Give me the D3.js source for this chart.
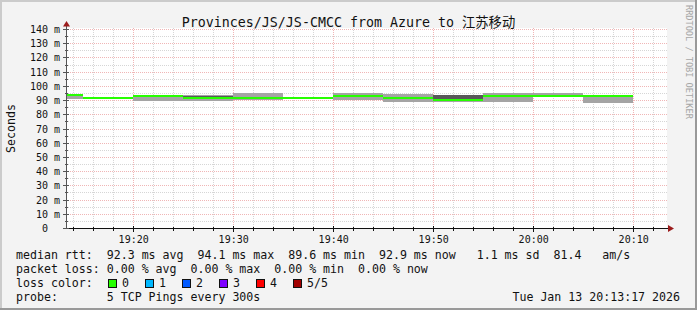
<!DOCTYPE html>
<html>
<head>
<meta charset="utf-8">
<script src="https://cdn.jsdelivr.net/npm/d3@7"></script>
<style>
  body { margin: 0; background: #f3f3f3; }
  svg text { font-family: "DejaVu Sans Mono", "Noto Sans CJK SC", monospace; white-space: pre; }
</style>
</head>
<body>
<svg id="smoke" width="697" height="310"></svg>
<script>
// one entry per 300s step (start of step)
let stepStart = ["19:10", "19:15", "19:20", "19:25", "19:30", "19:35", "19:40", "19:45", "19:50", "19:55", "20:00", "20:05"];
// median rtt (ms)
let median = [94.1, 91.6, 93.1, 91.6, 91.8, 91.6, 92.9, 92.1, 90.2, 93.1, 93.5, 93.1];
// sorted pings (ms), ping1 .. ping5
let ping1 = [90.9, 91.2, 90.0, 89.7, 90.5, 91.3, 90.3, 88.9, 89.2, 89.2, 92.9, 88.1];
let ping2 = [93.6, 91.4, 92.5, 91.0, 91.3, 91.4, 92.4, 91.6, 89.8, 92.5, 93.1, 92.5];
let ping4 = [94.4, 91.8, 93.4, 93.5, 92.3, 91.8, 93.4, 92.6, 93.6, 93.6, 93.9, 93.6];
let ping5 = [94.6, 92.0, 93.6, 93.6, 95.0, 91.9, 95.0, 94.3, 93.7, 95.1, 95.1, 93.8];
let loss = [0, 0, 0, 0, 0, 0, 0, 0, 0, 0, 0, 0];

let lossLabels = ["0", "1", "2", "3", "4", "5/5"];
let lossColors = ["#26ff00", "#00b8ff", "#0059ff", "#7e00ff", "#ff0000", "#a10000"];
let yTicks = [0, 10, 20, 30, 40, 50, 60, 70, 80, 90, 100, 110, 120, 130, 140];

let title = "Provinces/JS/JS-CMCC from Azure to 江苏移动";
let legendRows = [
	"median rtt:  92.3 ms avg  94.1 ms max  89.6 ms min  92.9 ms now   1.1 ms sd  81.4   am/s",
	"packet loss: 0.00 % avg  0.00 % max  0.00 % min  0.00 % now",
	"loss color:",
	"probe:       5 TCP Pings every 300s"
];
let stamp = "Tue Jan 13 20:13:17 2026";

let parseT = d3.timeParse("%Y-%m-%d %H:%M:%S");
let day = "2026-01-13 ";
let tEnd = parseT(day + "20:13:17");
let tStart = parseT(day + "19:13:17");

let svg = d3.select("#smoke");
let plotLeft = 66, plotRight = 666, plotTop = 29.5, plotBottom = 228.5;

let x = d3.scaleTime().domain([tStart, tEnd]).range([plotLeft, plotRight]);
let y = d3.scaleLinear().domain([0, 140]).range([plotBottom, plotTop]);

// canvas + 3d frame
svg.append("rect").attr("width", 697).attr("height", 310).attr("fill", "#f3f3f3");
svg.append("rect").attr("x", 0).attr("y", 0).attr("width", 697).attr("height", 2).attr("fill", "#cbcbcb");
svg.append("rect").attr("x", 0).attr("y", 0).attr("width", 2).attr("height", 310).attr("fill", "#cbcbcb");
svg.append("rect").attr("x", 0).attr("y", 308).attr("width", 697).attr("height", 2).attr("fill", "#999999");
svg.append("rect").attr("x", 695).attr("y", 0).attr("width", 2).attr("height", 310).attr("fill", "#999999");

svg.append("rect")
	.attr("x", plotLeft).attr("y", 28)
	.attr("width", plotRight - plotLeft + 1).attr("height", plotBottom - 28)
	.attr("fill", "white");

// grid
let minorX = d3.timeMinute.every(2).range(tStart, tEnd);
let majorX = d3.timeMinute.every(10).range(tStart, tEnd);
let minorY = d3.range(5, 141, 10);

function px(v) { return Math.round(x(v)) + 0.5; }
function py(v) { return Math.round(y(v) - 0.5) + 0.5; }

let grid = svg.append("g").attr("shape-rendering", "crispEdges");
grid.selectAll(".minx").data(minorX).enter().append("line")
	.attr("x1", px).attr("x2", px)
	.attr("y1", 28).attr("y2", plotBottom)
	.attr("stroke", "#d6d6d6").attr("stroke-dasharray", "1,1");
grid.selectAll(".miny").data(minorY).enter().append("line")
	.attr("x1", plotLeft).attr("x2", plotRight + 1)
	.attr("y1", py).attr("y2", py)
	.attr("stroke", "#d6d6d6").attr("stroke-dasharray", "1,1");
grid.selectAll(".majx").data(majorX).enter().append("line")
	.attr("x1", px).attr("x2", px)
	.attr("y1", 28).attr("y2", plotBottom)
	.attr("stroke", "#f0b6b6").attr("stroke-dasharray", "1,1");
grid.selectAll(".majy").data(yTicks.slice(1)).enter().append("line")
	.attr("x1", plotLeft).attr("x2", plotRight + 1)
	.attr("y1", py).attr("y2", py)
	.attr("stroke", "#f0b6b6").attr("stroke-dasharray", "1,1");

// smoke + median
let steps = stepStart.map(function(s, i) {
	let t0 = parseT(day + s + ":00");
	return {
		x0: Math.max(plotLeft + 1, x(t0)),
		x1: Math.min(plotRight, x(d3.timeMinute.offset(t0, 5))),
		p1: ping1[i], p2: ping2[i], p4: ping4[i], p5: ping5[i],
		med: median[i], loss: loss[i]
	};
});

let plot = svg.append("g").attr("shape-rendering", "crispEdges");
plot.selectAll(".outer").data(steps).enter().append("rect")
	.attr("x", function(d) { return d.x0; })
	.attr("width", function(d) { return d.x1 - d.x0; })
	.attr("y", function(d) { return y(d.p5); })
	.attr("height", function(d) { return y(d.p1) - y(d.p5); })
	.attr("fill", "#a4a4a4");
plot.selectAll(".inner").data(steps).enter().append("rect")
	.attr("x", function(d) { return d.x0; })
	.attr("width", function(d) { return d.x1 - d.x0; })
	.attr("y", function(d) { return y(d.p4); })
	.attr("height", function(d) { return y(d.p2) - y(d.p4); })
	.attr("fill", "#585858");
plot.selectAll(".med").data(steps).enter().append("rect")
	.attr("x", function(d) { return d.x0; })
	.attr("width", function(d) { return d.x1 - d.x0; })
	.attr("y", function(d) { return y(d.med) - 1; })
	.attr("height", 2)
	.attr("fill", function(d) { return lossColors[d.loss]; });

// axes
let axes = svg.append("g").attr("shape-rendering", "crispEdges");
axes.append("line").attr("x1", plotLeft + 0.5).attr("x2", plotLeft + 0.5).attr("y1", 229).attr("y2", 25)
	.attr("stroke", "#555");
axes.append("line").attr("x1", plotLeft).attr("x2", 669).attr("y1", 228.5).attr("y2", 228.5)
	.attr("stroke", "#111");
axes.selectAll(".ytick").data(yTicks).enter().append("line")
	.attr("x1", plotLeft - 3).attr("x2", plotLeft + 3)
	.attr("y1", py).attr("y2", py)
	.attr("stroke", "#555");
axes.selectAll(".ymtick").data(minorY).enter().append("line")
	.attr("x1", plotLeft - 1).attr("x2", plotLeft + 2)
	.attr("y1", py).attr("y2", py)
	.attr("stroke", "#555");
axes.selectAll(".xmtick").data(minorX).enter().append("line")
	.attr("x1", px).attr("x2", px)
	.attr("y1", 227).attr("y2", 231)
	.attr("stroke", "#111");
axes.selectAll(".xtick").data(majorX).enter().append("line")
	.attr("x1", px).attr("x2", px)
	.attr("y1", 226).attr("y2", 232)
	.attr("stroke", "#111");

svg.append("path").attr("d", "M66.5,21 L63,26.5 L70,26.5 Z").attr("fill", "#9b1c1c");
svg.append("path").attr("d", "M674,228.5 L668,225 L668,232 Z").attr("fill", "#9b1c1c");

// y labels
svg.selectAll(".ylab").data(yTicks).enter().append("text")
	.attr("x", 48)
	.attr("y", function(d) { return y(d) + 3.5; })
	.style("font-size", "10px")
	.style("text-anchor", "end")
	.attr("fill", "#111")
	.text(function(d) { return d; });
svg.selectAll(".yunit").data(yTicks.slice(1)).enter().append("text")
	.attr("x", 54)
	.attr("y", function(d) { return y(d) + 3.5; })
	.style("font-size", "10px")
	.attr("fill", "#111")
	.text("m");

// x labels
svg.selectAll(".xlab").data(majorX).enter().append("text")
	.attr("x", function(d) { return x(d) + 0.5; })
	.attr("y", 242.5)
	.style("font-size", "10px")
	.style("text-anchor", "middle")
	.attr("fill", "#111")
	.text(d3.timeFormat("%H:%M"));

// title and side labels
svg.append("text")
	.attr("x", 348.5).attr("y", 26.5)
	.style("font-size", "13.3px")
	.style("text-anchor", "middle")
	.attr("fill", "#111")
	.text(title);

svg.append("text")
	.attr("transform", "translate(14.5,128.5) rotate(-90)")
	.style("font-size", "11.6px")
	.style("text-anchor", "middle")
	.attr("fill", "#111")
	.text("Seconds");

svg.append("text")
	.attr("transform", "translate(685.5,5) rotate(90)")
	.style("font-size", "8.6px")
	.attr("fill", "#a6a6a6")
	.text("RRDTOOL / TOBI OETIKER");

// legend
svg.selectAll(".leg").data(legendRows).enter().append("text")
	.attr("x", 16)
	.attr("y", function(d, i) { return 258.5 + i*14; })
	.style("font-size", "11.6px")
	.attr("fill", "#111")
	.text(function(d) { return d; });

let lossKey = svg.selectAll(".lk").data(lossLabels).enter().append("g")
	.attr("transform", function(d, i) { return "translate(" + (108 + i*37) + ",279)"; });
lossKey.append("rect")
	.attr("x", 0.5).attr("y", 0.5).attr("width", 8).attr("height", 8)
	.attr("fill", function(d, i) { return lossColors[i]; })
	.attr("stroke", "#111").attr("shape-rendering", "crispEdges");
lossKey.append("text")
	.attr("x", 14).attr("y", 7.5)
	.style("font-size", "11.6px")
	.attr("fill", "#111")
	.text(function(d) { return d; });

svg.append("text")
	.attr("x", 680).attr("y", 300.5)
	.style("font-size", "11.6px")
	.style("text-anchor", "end")
	.attr("fill", "#111")
	.text(stamp);
</script>
</body>
</html>
